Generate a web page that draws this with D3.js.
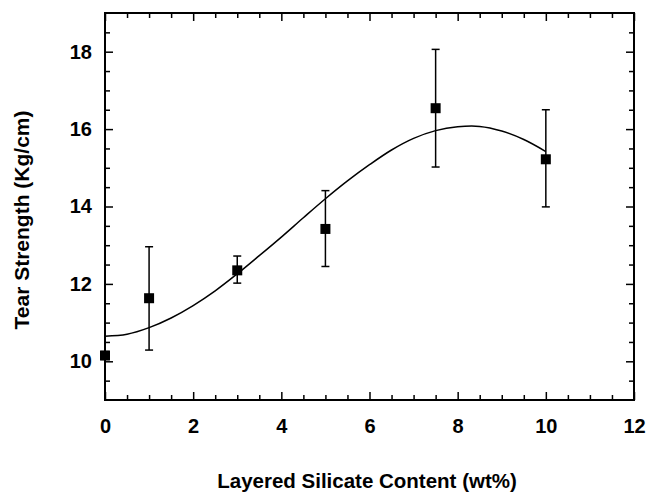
<!DOCTYPE html>
<html>
<head>
<meta charset="utf-8">
<script src="https://cdn.jsdelivr.net/npm/d3@7"></script>
<style>
  body { margin: 0; background: #fff; }
  svg text { font-family: "Liberation Sans", Arial, sans-serif; font-weight: bold; }
</style>
</head>
<body>
<svg width="646" height="493"></svg>
<script>
// measured points
var contents = [0, 1, 3, 5, 7.5, 10];
var strength = [10.15, 11.63, 12.35, 13.42, 16.54, 15.22];
var errLow   = [10.05, 10.29, 12.02, 12.45, 15.02, 13.99];
var errHigh  = [10.25, 12.96, 12.72, 14.41, 18.06, 16.50];

// fitted curve
var fitX = [0, 0.5, 1, 1.5, 2, 2.5, 3, 3.5, 4, 4.5, 5, 5.5, 6, 6.5, 7, 7.5, 8, 8.5, 9, 9.5, 10];
var fitY = [10.65, 10.70, 10.87, 11.12, 11.44, 11.82, 12.26, 12.73, 13.21, 13.71, 14.20,
            14.66, 15.08, 15.46, 15.76, 15.96, 16.06, 16.07, 15.95, 15.73, 15.42];

var xTicks = [0, 2, 4, 6, 8, 10, 12];
var yTicks = [10, 12, 14, 16, 18];

var svg = d3.select("svg");
var pLeft = 105, pRight = 634, pTop = 13, pBottom = 400;

var x = d3.scaleLinear().domain([0, 12]).range([pLeft, pRight]);
var y = d3.scaleLinear().domain([9, 19]).range([pBottom, pTop]);

var xMinor = d3.range(0.5, 12, 0.5).filter(function(v){ return v % 2 != 0; });
var yMinor = d3.range(9.5, 19, 0.5).filter(function(v){ return v % 2 != 0; });

function styleAxis(g) {
    g.select(".domain").remove();
    g.selectAll("line").attr("stroke", "#000").attr("stroke-width", 1.5);
    g.selectAll("text").attr("font-size", 20).attr("fill", "#000");
}

// bottom
svg.append("g").attr("transform", "translate(0," + pBottom + ")")
    .call(d3.axisBottom(x).tickValues(xTicks).tickSize(-8).tickPadding(19).tickFormat(d3.format("d")))
    .call(styleAxis);
svg.append("g").attr("transform", "translate(0," + pBottom + ")")
    .call(d3.axisBottom(x).tickValues(xMinor).tickSize(-5).tickFormat(""))
    .call(styleAxis);
// top
svg.append("g").attr("transform", "translate(0," + pTop + ")")
    .call(d3.axisTop(x).tickValues(xTicks).tickSize(-8).tickFormat(""))
    .call(styleAxis);
svg.append("g").attr("transform", "translate(0," + pTop + ")")
    .call(d3.axisTop(x).tickValues(xMinor).tickSize(-5).tickFormat(""))
    .call(styleAxis);
// left
svg.append("g").attr("transform", "translate(" + pLeft + ",0)")
    .call(d3.axisLeft(y).tickValues(yTicks).tickSize(-8).tickPadding(13).tickFormat(d3.format("d")))
    .call(styleAxis);
svg.append("g").attr("transform", "translate(" + pLeft + ",0)")
    .call(d3.axisLeft(y).tickValues(yMinor).tickSize(-5).tickFormat(""))
    .call(styleAxis);
// right
svg.append("g").attr("transform", "translate(" + pRight + ",0)")
    .call(d3.axisRight(y).tickValues(yTicks).tickSize(-8).tickFormat(""))
    .call(styleAxis);
svg.append("g").attr("transform", "translate(" + pRight + ",0)")
    .call(d3.axisRight(y).tickValues(yMinor).tickSize(-5).tickFormat(""))
    .call(styleAxis);

// frame
svg.append("rect")
    .attr("x", pLeft).attr("y", pTop)
    .attr("width", pRight - pLeft).attr("height", pBottom - pTop)
    .attr("fill", "none").attr("stroke", "#000").attr("stroke-width", 2);

// fit curve
var line = d3.line()
    .x(function(d, i){ return x(fitX[i]); })
    .y(function(d){ return y(d); })
    .curve(d3.curveCatmullRom);
svg.append("path")
    .attr("d", line(fitY))
    .attr("fill", "none").attr("stroke", "#000").attr("stroke-width", 1.5);

// error bars
for (var i = 0; i < contents.length; i++) {
    var cx = x(contents[i]);
    svg.append("line")
        .attr("x1", cx).attr("x2", cx)
        .attr("y1", y(errLow[i])).attr("y2", y(errHigh[i]))
        .attr("stroke", "#000").attr("stroke-width", 1.5);
    [errLow[i], errHigh[i]].forEach(function(v){
        svg.append("line")
            .attr("x1", cx - 4).attr("x2", cx + 4)
            .attr("y1", y(v)).attr("y2", y(v))
            .attr("stroke", "#000").attr("stroke-width", 1.5);
    });
}

// markers
svg.selectAll("rect.pt")
    .data(strength)
    .enter().append("rect")
    .attr("class", "pt")
    .attr("x", function(d, i){ return x(contents[i]) - 5; })
    .attr("y", function(d){ return y(d) - 5; })
    .attr("width", 10).attr("height", 10)
    .attr("fill", "#000");

// axis titles
svg.append("text")
    .attr("x", 367).attr("y", 488)
    .attr("text-anchor", "middle").attr("font-size", 20.5)
    .text("Layered Silicate Content (wt%)");
svg.append("text")
    .attr("transform", "translate(29,220) rotate(-90)")
    .attr("text-anchor", "middle").attr("font-size", 21)
    .text("Tear Strength (Kg/cm)");
</script>
</body>
</html>
